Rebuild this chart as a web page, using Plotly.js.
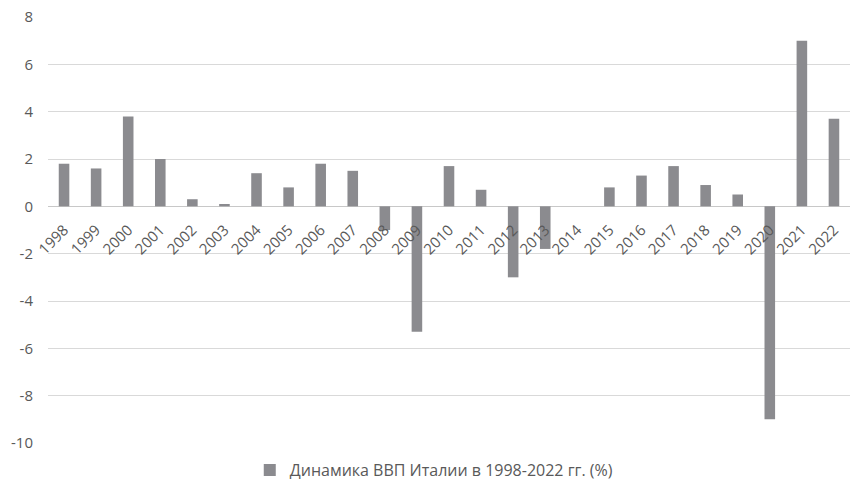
<!DOCTYPE html>
<html>
<head>
<meta charset="utf-8">
<script src="https://cdn.plot.ly/plotly-3.0.1.min.js"></script>
<style>html,body{margin:0;padding:0;background:#fff;}#chart{width:853px;height:484px;}</style>
</head>
<body>
<div id="chart"></div>
<script>
const years = ["1998","1999","2000","2001","2002","2003","2004","2005","2006","2007","2008","2009","2010","2011","2012","2013","2014","2015","2016","2017","2018","2019","2020","2021","2022"];
const gdpGrowth = [1.8,1.6,3.8,2.0,0.3,0.1,1.4,0.8,1.8,1.5,-1.0,-5.3,1.7,0.7,-3.0,-1.8,0.0,0.8,1.3,1.7,0.9,0.5,-9.0,7.0,3.7];
const yTickValues = [-10,-8,-6,-4,-2,0,2,4,6,8];
const yTickLabels = ["-10","-8","-6","-4","-2","0","2","4","6","8"];
const seriesName = "Динамика ВВП Италии в 1998-2022 гг. (%)";
const yMin = -10, yMax = 8;

const font = {family: "Open Sans, Liberation Sans, sans-serif", size: 15, color: "#595959"};
const plotHeightPx = 484 - 17 - 41;
const labelOffsetPx = 11;

Plotly.newPlot("chart", [{
  type: "bar",
  x: years,
  y: gdpGrowth,
  name: seriesName,
  width: 0.33,
  marker: {color: "#8b8b8f", line: {width: 0}},
  showlegend: true
}], {
  width: 853, height: 484,
  margin: {l: 48, r: 3, t: 17, b: 41, autoexpand: false},
  paper_bgcolor: "#ffffff",
  plot_bgcolor: "#ffffff",
  font: font,
  showlegend: true,
  legend: {orientation: "h", x: 0.481, xanchor: "center", yref: "container", y: 14 / 484, yanchor: "middle", font: {family: font.family, size: 16, color: "#595959"}},
  xaxis: {
    type: "category",
    anchor: "free",
    position: (0 - yMin) / (yMax - yMin) - labelOffsetPx / plotHeightPx,
    tickangle: -45,
    showgrid: false,
    showline: false,
    ticks: "",
    automargin: false,
    tickfont: font,
    zeroline: false
  },
  yaxis: {
    range: [yMin, yMax],
    tickmode: "array",
    tickvals: yTickValues,
    ticktext: yTickLabels,
    showgrid: true,
    gridcolor: "#d9d9d9",
    gridwidth: 1,
    zeroline: true,
    zerolinecolor: "#c8c8c8",
    zerolinewidth: 1.5,
    showline: false,
    ticks: "",
    ticklabelstandoff: 14,
    automargin: false,
    tickfont: font
  },
  bargap: 0.67
}, {displayModeBar: false, staticPlot: true});
</script>
</body>
</html>
